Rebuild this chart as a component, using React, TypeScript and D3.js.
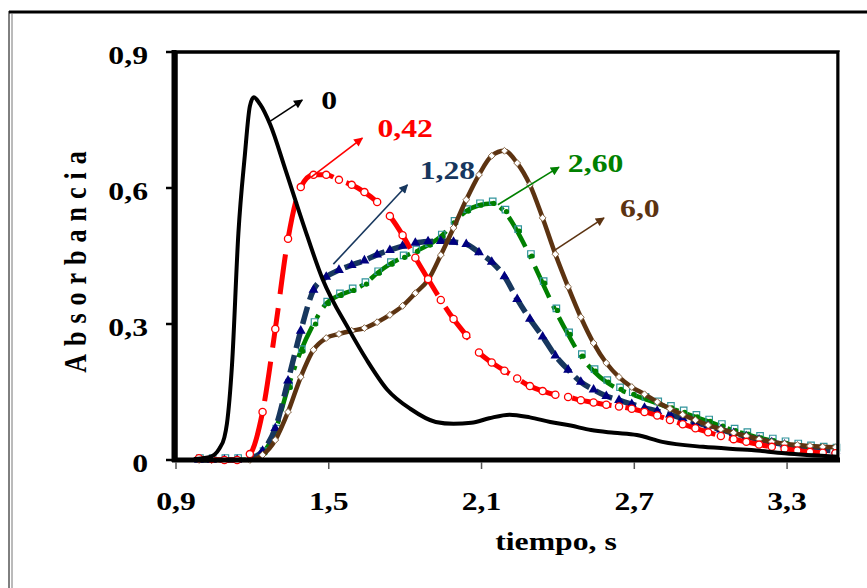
import React from "react";
import * as d3 from "d3";

// tiempo (s) de las series con marcadores
const tiempo = [0.99, 1.04, 1.09, 1.14, 1.19, 1.24, 1.29, 1.34, 1.39, 1.44, 1.49, 1.54, 1.59, 1.64, 1.69, 1.74, 1.79, 1.84, 1.89, 1.94,
  1.99, 2.04, 2.09, 2.14, 2.19, 2.24, 2.29, 2.34, 2.39, 2.44, 2.49, 2.54, 2.59, 2.64, 2.69, 2.74, 2.79, 2.84, 2.89, 2.94,
  2.99, 3.04, 3.09, 3.14, 3.19, 3.24, 3.29, 3.34, 3.39, 3.44, 3.49];

const abs042 = [0.004, 0.002, 0, 0, 0.013, 0.106, 0.289, 0.488, 0.602, 0.629, 0.629, 0.618, 0.607, 0.591, 0.569, 0.538, 0.496, 0.446, 0.399, 0.353,
  0.311, 0.275, 0.237, 0.215, 0.197, 0.18, 0.163, 0.152, 0.144, 0.139, 0.132, 0.127, 0.122, 0.118, 0.113, 0.106, 0.098, 0.088, 0.079, 0.07,
  0.061, 0.053, 0.046, 0.04, 0.034, 0.029, 0.025, 0.021, 0.018, 0.016, 0.015];
const abs128 = [0, 0, 0, 0, 0.003, 0.02, 0.07, 0.175, 0.285, 0.375, 0.404, 0.419, 0.43, 0.44, 0.453, 0.463, 0.472, 0.479, 0.482, 0.483,
  0.481, 0.476, 0.458, 0.437, 0.405, 0.355, 0.311, 0.272, 0.23, 0.199, 0.172, 0.155, 0.141, 0.132, 0.123, 0.115, 0.108, 0.1, 0.092, 0.083,
  0.075, 0.067, 0.059, 0.052, 0.045, 0.039, 0.034, 0.029, 0.025, 0.022, 0.02];
const abs260 = [0, 0, 0, 0, 0.002, 0.015, 0.065, 0.16, 0.24, 0.3, 0.345, 0.363, 0.374, 0.388, 0.412, 0.432, 0.447, 0.46, 0.474, 0.493,
  0.523, 0.549, 0.562, 0.566, 0.548, 0.505, 0.45, 0.39, 0.33, 0.277, 0.229, 0.196, 0.172, 0.156, 0.145, 0.135, 0.125, 0.115, 0.105, 0.095,
  0.085, 0.075, 0.065, 0.057, 0.049, 0.043, 0.037, 0.032, 0.028, 0.025, 0.023];
const abs60 = [0, 0, 0, 0, 0, 0.011, 0.044, 0.106, 0.183, 0.243, 0.269, 0.278, 0.285, 0.291, 0.304, 0.32, 0.34, 0.368, 0.397, 0.452,
  0.512, 0.574, 0.629, 0.671, 0.682, 0.655, 0.607, 0.534, 0.454, 0.382, 0.315, 0.258, 0.214, 0.183, 0.161, 0.145, 0.128, 0.113, 0.1, 0.088,
  0.077, 0.068, 0.06, 0.053, 0.046, 0.04, 0.036, 0.033, 0.031, 0.029, 0.028];

// curva sin marcadores (0)
const tiempo0 = [0.97, 1.03, 1.07, 1.09, 1.1, 1.12, 1.145, 1.17, 1.19, 1.205, 1.23, 1.27, 1.33, 1.4, 1.475, 1.58, 1.65, 1.73, 1.82, 1.92,
  1.99, 2.06, 2.13, 2.21, 2.29, 2.37, 2.45, 2.53, 2.62, 2.71, 2.81, 2.97, 3.16, 3.29, 3.5];
const abs0 = [0.002, 0.006, 0.025, 0.05, 0.08, 0.21, 0.5, 0.67, 0.78, 0.8, 0.785, 0.74, 0.64, 0.52, 0.4, 0.287, 0.22, 0.155, 0.113, 0.084,
  0.08, 0.082, 0.092, 0.1, 0.094, 0.084, 0.076, 0.066, 0.06, 0.055, 0.04, 0.029, 0.022, 0.015, 0.007];

const xTicks = [0.9, 1.5, 2.1, 2.7, 3.3];
const yTicks = [0, 0.3, 0.6, 0.9];

// etiquetas con flecha: [texto, color, x0, y0, x1, y1, xTexto, yTexto]
const etiquetas: [string, string, number, number, number, number, number, number][] = [
  ["0", "#000000", 1.266, 0.746, 1.396, 0.794, 1.47, 0.794],
  ["0,42", "#ff0000", 1.431, 0.624, 1.632, 0.71, 1.691, 0.732],
  ["1,28", "#17375e", 1.518, 0.432, 1.809, 0.607, 1.857, 0.64],
  ["2,60", "#008000", 2.164, 0.563, 2.404, 0.646, 2.439, 0.655],
  ["6,0", "#5c3311", 2.388, 0.463, 2.581, 0.534, 2.644, 0.556],
];

const FONT = "'Liberation Serif', 'Times New Roman', serif";

export default function App() {
  const x = d3.scaleLinear().domain([0.9, 3.5]).range([176, 838]);
  const y = d3.scaleLinear().domain([0, 0.9]).range([460, 52]);

  const line = d3.line<[number, number]>()
    .x(d => x(d[0]))
    .y(d => y(d[1]))
    .curve(d3.curveMonotoneX);

  const pts = (vals: number[]) => tiempo.map((t, i) => [t, vals[i]] as [number, number]);
  const tri = d3.symbol(d3.symbolTriangle, 42)()!;
  const diam = d3.symbol(d3.symbolDiamond2, 30)()!;
  const sq = d3.symbol(d3.symbolSquare, 42)()!;

  return (
    <svg width={867} height={588} style={{ position: "absolute", left: 0, top: 0, background: "#fff" }}>
      <defs>
        {etiquetas.map((e, i) => (
          <marker key={i} id={"flecha" + i} viewBox="0 0 10 10" refX={9} refY={5}
            markerWidth={11} markerHeight={9} markerUnits="userSpaceOnUse" orient="auto">
            <path d="M0,0 L10,5 L0,10 z" fill={e[1]} />
          </marker>
        ))}
      </defs>

      {/* marco exterior */}
      <line x1={9} x2={867} y1={12} y2={12} stroke="#000" strokeWidth={3} />
      <line x1={9} x2={9} y1={11} y2={588} stroke="#000" strokeWidth={1} />
      <line x1={12} x2={12} y1={13} y2={588} stroke="#777" strokeWidth={1} />

      {/* series */}
      <g>
        <path d={line(pts(abs260))!} fill="none" stroke="#008000" strokeWidth={4.5} strokeDasharray="34,9,4,9" />
        {pts(abs260).map((p, i) => (
          <path key={"s" + i} d={sq} transform={`translate(${x(p[0]) + 1},${y(p[1]) - 2})`} fill="none" stroke="#31949c" strokeWidth={1.2} />
        ))}
        {pts(abs260).map((p, i) => (
          <circle key={"g" + i} cx={x(p[0]) + 2} cy={y(p[1])} r={2.6} fill="#008000" />
        ))}
      </g>
      <g>
        <path d={line(pts(abs128))!} fill="none" stroke="#17375e" strokeWidth={5.5} strokeDasharray="18,7" />
        {pts(abs128).map((p, i) => (
          <path key={i} d={tri} transform={`translate(${x(p[0])},${y(p[1])})`} fill="#000080" />
        ))}
      </g>
      <g>
        <path d={line(pts(abs60))!} fill="none" stroke="#5c3311" strokeWidth={4.5} />
        {pts(abs60).map((p, i) => (
          <path key={i} d={diam} transform={`translate(${x(p[0])},${y(p[1])})`} fill="#fff" stroke="#8a6a4a" strokeWidth={1} />
        ))}
      </g>
      <g>
        <path d={line(pts(abs042))!} fill="none" stroke="#ff0000" strokeWidth={5} strokeDasharray="40,14" />
        {pts(abs042).map((p, i) => (
          <circle key={i} cx={x(p[0])} cy={y(p[1])} r={3.6} fill="#fff" stroke="#ff0000" strokeWidth={1.3} />
        ))}
      </g>
      <path d={line(tiempo0.map((t, i) => [t, abs0[i]] as [number, number]))!} fill="none" stroke="#000" strokeWidth={4} />

      {/* marco del gráfico y ejes */}
      <rect x={176} y={52} width={662} height={408} fill="none" stroke="#000" strokeWidth={3.5} />
      <line x1={839.5} x2={839.5} y1={52} y2={461} stroke="#888" strokeWidth={1} />
      <line x1={174} x2={174} y1={50} y2={462} stroke="#000" strokeWidth={5} />
      <line x1={172} x2={840} y1={460} y2={460} stroke="#000" strokeWidth={5} />

      {yTicks.map(v => (
        <g key={v}>
          <line x1={166} x2={176} y1={y(v)} y2={y(v)} stroke="#000" strokeWidth={2.5} />
          <text transform={`translate(148,${y(v) + 3}) scale(1.22,1)`} textAnchor="end" dominantBaseline="central"
            fontFamily={FONT} fontWeight="bold" fontSize={26} fill="#000">
            {String(v).replace(".", ",")}
          </text>
        </g>
      ))}
      {xTicks.map(v => (
        <g key={v}>
          <line x1={x(v)} x2={x(v)} y1={462} y2={469} stroke="#555" strokeWidth={1.5} />
          <text transform={`translate(${x(v)},510) scale(1.22,1)`} textAnchor="middle"
            fontFamily={FONT} fontWeight="bold" fontSize={26} fill="#000">
            {String(v).replace(".", ",")}
          </text>
        </g>
      ))}

      <text transform="translate(556,550) scale(1.22,1)" textAnchor="middle" fontFamily={FONT} fontWeight="bold" fontSize={26} fill="#000">
        tiempo, s
      </text>
      <text transform="translate(86,258) rotate(-90) scale(1,1.22)" textAnchor="middle" fontFamily={FONT} fontWeight="bold"
        fontSize={26} letterSpacing={8} fill="#000">
        Absorbancia
      </text>

      {/* flechas y etiquetas */}
      {etiquetas.map((e, i) => (
        <g key={i}>
          <line x1={x(e[2])} y1={y(e[3])} x2={x(e[4])} y2={y(e[5])} stroke={e[1]} strokeWidth={1.6} markerEnd={`url(#flecha${i})`} />
          <text transform={`translate(${x(e[6])},${y(e[7])}) scale(1.22,1)`} dominantBaseline="central"
            fontFamily={FONT} fontWeight="bold" fontSize={26} fill={e[1]}>
            {e[0]}
          </text>
        </g>
      ))}
    </svg>
  );
}
